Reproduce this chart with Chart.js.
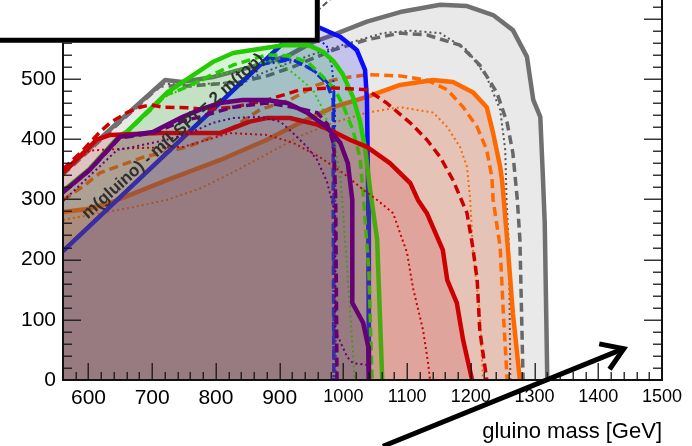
<!DOCTYPE html>
<html>
<head>
<meta charset="utf-8">
<style>
  html, body { margin: 0; padding: 0; background: #fff; overflow: hidden; }
  #wrap { position: relative; width: 692px; height: 446px; }
</style>
<script src="https://cdn.jsdelivr.net/npm/chart.js@4.4.1/dist/chart.umd.min.js"></script>
</head>
<body>
<div id="wrap"><canvas id="c" width="692" height="446"></canvas></div>
<script>
// Axis ranges and tick labels
const xRange = [560, 1500];
const yRange = [0, 631];
const xTickLabels = [600, 700, 800, 900, 1000, 1100, 1200, 1300, 1400, 1500];
const yTickLabels = [0, 100, 200, 300, 400, 500];

// Exclusion contours: [gluino mass, LSP mass] in GeV
const grayObs = [[560,344],[640,422],[720,498],[747,495],[795,503],[838,515],[880,527],[916,540],[950,560],[984,573],[1037,595],[1089,611],[1152,623],[1194,621],[1235,606],[1266,581],[1288,537],[1298,465],[1309,437],[1313,340],[1316,260],[1320,0]];
const grayExp = [[560,341],[640,419],[712,488],[760,488],[838,495],[880,505],[921,520],[984,548],[1037,565],[1089,576],[1131,573],[1183,556],[1214,523],[1241,477],[1257,427],[1266,377],[1273,299],[1277,233],[1282,0]];
const grayBand = [[560,342],[640,420],[715,492],[755,490],[838,495],[898,520],[950,540],[1010,560],[1062,576],[1105,580],[1152,576],[1194,548],[1225,503],[1246,449],[1254,382],[1256,299],[1260,216],[1262,0]];
const grayAlt = [[935,590],[1000,652]];

const orangeObs = [[560,279],[598,284],[634,294],[686,316],[723,332],[806,365],[880,399],[932,427],[984,453],[1037,470],[1089,490],[1141,498],[1172,495],[1203,478],[1225,453],[1235,410],[1246,354],[1249,332],[1257,233],[1266,111],[1277,0]];
const orangeExp = [[560,299],[591,321],[618,344],[686,370],[755,387],[795,404],[827,419],[869,449],[916,465],[959,490],[984,498],[1010,503],[1037,507],[1089,505],[1131,498],[1163,482],[1188,453],[1210,420],[1225,382],[1233,337],[1235,299],[1246,221],[1251,111],[1257,0]];
const orangeBand = [[560,266],[618,277],[670,287],[723,299],[775,318],[827,345],[880,375],[932,405],[984,427],[1037,444],[1089,453],[1141,444],[1163,420],[1183,387],[1194,354],[1199,299],[1203,221],[1214,111],[1219,0]];

const blueObs = [[560,214],[932,586],[963,585],[995,570],[1021,548],[1034,515],[1037,465],[1039,300],[1040,0]];
const blueExp = [[560,214],[880,534],[921,532],[952,515],[974,493],[984,465],[984,299],[985,0]];
const blueBand = [[560,214],[925,579],[955,570],[974,555],[982,520],[985,487],[987,432],[988,0]];
const blueAlt = [[560,214],[870,524],[921,532],[952,515],[974,495],[985,480],[985,0]];

const greenObs = [[560,314],[602,351],[649,406],[660,412],[723,477],[795,528],[827,543],[905,556],[945,556],[968,545],[984,530],[999,508],[1015,470],[1026,430],[1034,385],[1042,316],[1053,233],[1061,0]];
const greenExp = [[560,313],[602,350],[649,405],[660,411],[723,474],[744,482],[786,503],[827,523],[880,540],[916,538],[945,527],[968,503],[985,485],[1000,455],[1015,415],[1026,370],[1031,310],[1040,180],[1045,0]];
const greenBand = [[560,313],[602,350],[649,405],[723,472],[786,500],[830,515],[890,532],[921,510],[952,482],[968,449],[985,400],[995,340],[1005,200],[1018,0]];

const redObs = [[560,344],[613,399],[634,407],[712,410],[806,410],[853,429],[880,435],[916,435],[959,424],[979,415],[1010,399],[1037,387],[1073,360],[1105,327],[1117,299],[1131,277],[1156,216],[1163,166],[1178,128],[1188,66],[1202,0]];
const redExp = [[560,350],[590,380],[618,412],[634,427],[660,444],[681,453],[697,457],[717,453],[755,452],[786,449],[827,453],[880,465],[905,473],[932,482],[984,485],[1037,482],[1068,460],[1105,427],[1131,399],[1152,370],[1172,332],[1194,277],[1203,221],[1210,166],[1214,83],[1225,0]];
const redBand = [[560,350],[602,381],[670,385],[748,387],[822,410],[880,407],[921,394],[963,370],[999,344],[1031,316],[1053,299],[1078,277],[1100,211],[1109,154],[1125,83],[1133,28],[1136,0]];

const purpleObs = [[560,312],[602,349],[649,404],[701,412],[748,437],[775,449],[806,460],[842,465],[880,465],[912,460],[943,444],[974,420],[995,394],[1007,360],[1014,299],[1014,128],[1031,95],[1039,55],[1040,0]];
const purpleExp = [[560,311],[602,348],[649,402],[701,410],[748,430],[775,437],[827,453],[880,460],[921,453],[959,444],[975,425],[985,390],[988,300],[990,0]];
const purpleBand = [[560,297],[607,344],[645,382],[670,387],[723,399],[759,410],[795,427],[827,435],[869,437],[901,429],[921,410],[943,387],[959,365],[974,330],[984,290],[987,277],[987,83],[1006,38],[1015,28],[1037,25],[1040,0]];

// Kinematic boundary m(gluino) - m(LSP) = 2 m(top)
const diagLine = [[560,214],[932,586]];
const diagText = 'm(gluino) - m(LSP) = 2 m(top)';
const diagTextStart = 605;

// Annotation arrow (tail, head) and the framed box corner
const arrowLine = [[1062,-110],[1440,52]];
const boxCorner = [963, 560];

const pts = a => a.map(p => ({x: p[0], y: p[1]}));

const SOLID = {w: 4.5, dash: []};
const DASH = {w: 3.5, dash: [9, 5]};
const DOT = {w: 2, dash: [2, 3]};
const DASHDOT = {w: 3, dash: [9, 3, 2, 3]};

const datasets = [];
function addFill(contour, color) {
  datasets.push({
    data: pts(contour.concat([[xRange[0], 0]])),
    showLine: true, fill: 'shape', backgroundColor: color,
    borderColor: 'rgba(0,0,0,0)', borderWidth: 0, pointRadius: 0, clip: 0
  });
}
function addLine(contour, color, style) {
  datasets.push({
    data: pts(contour), showLine: true, fill: false,
    borderColor: color, borderWidth: style.w, borderDash: style.dash,
    borderCapStyle: 'butt', borderJoinStyle: 'round',
    pointRadius: 0, clip: 0
  });
}

addFill(grayObs, 'rgb(233,233,233)');
addLine(grayBand, '#555555', DOT);
addLine(grayExp, '#686868', DASH);
addLine(grayObs, '#707070', SOLID);
addLine(grayAlt, '#555555', {w: 2, dash: [6, 3, 2, 3]});

addFill(orangeObs, 'rgba(219,57,0,0.21)');
addLine(orangeBand, '#ff6a00', DOT);
addLine(orangeExp, '#ff6a00', DASH);
addLine(orangeObs, '#ff6a00', SOLID);

addFill(blueObs, 'rgba(0,0,250,0.16)');
addLine(blueBand, '#1010ff', DOT);
addLine(blueAlt, '#1010ff', DASHDOT);
addLine(blueExp, '#1010ff', DASH);
addLine(blueObs, '#0a0aff', SOLID);

addFill(greenObs, 'rgba(0,188,0,0.155)');
addLine(greenBand, '#22cc00', DOT);
addLine(greenExp, '#22cc00', DASH);
addLine(greenObs, '#22cc00', SOLID);

addFill(redObs, 'rgba(204,61,71,0.23)');
addLine(redBand, '#cc0000', DOT);
addLine(redExp, '#cc0000', DASH);
addLine(redObs, '#cc0000', SOLID);

addFill(purpleObs, 'rgba(80,54,86,0.2)');
addLine(purpleBand, '#660077', DOT);
addLine(purpleExp, '#660077', DASH);
addLine(purpleObs, '#660077', SOLID);

// draw in the sequence they were added
datasets.forEach((d, i) => { d.order = -i; });

const FONT = "'Liberation Sans', Arial, Helvetica, sans-serif";

const framePlugin = {
  id: 'frame',
  afterDatasetsDraw(chart) {
    const {ctx, chartArea: a, scales: {x, y}} = chart;
    ctx.save();
    ctx.strokeStyle = 'rgba(20,20,20,0.85)';
    ctx.lineWidth = 1.5;
    ctx.beginPath();
    for (let v = xRange[0] + 20; v <= xRange[1]; v += 20) {
      const px = Math.round(x.getPixelForValue(v)) + 0.25;
      const L = v % 100 === 0 ? 17 : 8;
      ctx.moveTo(px, a.bottom); ctx.lineTo(px, a.bottom - L);
    }
    for (let v = 0; v <= 620; v += 20) {
      const py = Math.round(y.getPixelForValue(v)) + 0.25;
      const L = v % 100 === 0 ? 18 : 9;
      ctx.moveTo(a.left, py); ctx.lineTo(a.left + L, py);
      ctx.moveTo(a.right, py); ctx.lineTo(a.right - L, py);
    }
    ctx.stroke();
    ctx.strokeStyle = '#111';
    ctx.lineWidth = 2;
    ctx.beginPath();
    ctx.moveTo(a.left, a.top); ctx.lineTo(a.left, a.bottom);
    ctx.lineTo(a.right, a.bottom); ctx.lineTo(a.right, a.top);
    ctx.stroke();

    // label along the kinematic boundary
    const p1 = [x.getPixelForValue(diagLine[0][0]), y.getPixelForValue(diagLine[0][1])];
    const p2 = [x.getPixelForValue(diagLine[1][0]), y.getPixelForValue(diagLine[1][1])];
    const ang = Math.atan2(p2[1] - p1[1], p2[0] - p1[0]);
    const sx = x.getPixelForValue(diagTextStart);
    const sy = y.getPixelForValue(diagTextStart - (diagLine[0][0] - diagLine[0][1]));
    ctx.save();
    ctx.translate(sx, sy);
    ctx.rotate(ang + 0.025);
    ctx.font = 'bold 17px ' + FONT;
    ctx.fillStyle = '#2e2e2e';
    ctx.textAlign = 'left';
    ctx.textBaseline = 'alphabetic';
    ctx.fillText(diagText, 0, -6);
    ctx.restore();
    ctx.restore();
  },
  afterDraw(chart) {
    const {ctx, scales: {x, y}} = chart;
    ctx.save();
    // framed box in the upper left
    const bx = x.getPixelForValue(boxCorner[0]);
    const by = y.getPixelForValue(boxCorner[1]);
    ctx.fillStyle = '#fff';
    ctx.fillRect(-10, -10, bx + 10, by + 10);
    ctx.strokeStyle = '#000';
    ctx.lineWidth = 5;
    ctx.strokeRect(-10, -10, bx + 10 - 2.5, by + 10 - 2.5);

    // arrow
    const t = [x.getPixelForValue(arrowLine[0][0]), y.getPixelForValue(arrowLine[0][1])];
    const h = [x.getPixelForValue(arrowLine[1][0]), y.getPixelForValue(arrowLine[1][1])];
    const ang = Math.atan2(h[1] - t[1], h[0] - t[0]);
    const len = 25, spread = 0.58;
    ctx.strokeStyle = '#000';
    ctx.lineWidth = 5;
    ctx.lineCap = 'butt';
    ctx.lineJoin = 'miter';
    ctx.beginPath();
    ctx.moveTo(t[0], t[1]);
    ctx.lineTo(h[0] - 2 * Math.cos(ang), h[1] - 2 * Math.sin(ang));
    ctx.stroke();
    ctx.beginPath();
    ctx.moveTo(h[0] - len * Math.cos(ang - spread), h[1] - len * Math.sin(ang - spread));
    ctx.lineTo(h[0], h[1]);
    ctx.lineTo(h[0] - len * Math.cos(ang + spread), h[1] - len * Math.sin(ang + spread));
    ctx.stroke();
    ctx.restore();
  }
};

const noPad = s => { s.paddingTop = 0; s.paddingBottom = 0; s.paddingLeft = 0; s.paddingRight = 0; };

new Chart(document.getElementById('c'), {
  type: 'scatter',
  data: {datasets},
  plugins: [framePlugin],
  options: {
    responsive: false,
    animation: false,
    devicePixelRatio: 1,
    events: [],
    layout: {autoPadding: false, padding: {left: 0, right: 30, top: 0, bottom: 0}},
    plugins: {legend: {display: false}, tooltip: {enabled: false}},
    elements: {line: {tension: 0}},
    scales: {
      x: {
        type: 'linear', min: xRange[0], max: xRange[1],
        afterBuildTicks: s => { s.ticks = xTickLabels.map(v => ({value: v})); },
        afterFit: s => { s.height = 66; noPad(s); },
        grid: {display: false, drawTicks: false},
        border: {display: false},
        ticks: {
          autoSkip: false, maxRotation: 0, padding: 6, color: '#000',
          callback: v => String(v),
          font: c => ({family: FONT, size: (c.tick && c.tick.value >= 1000) ? 18 : 21})
        },
        title: {
          display: true, text: 'gluino mass [GeV]', align: 'end', color: '#000',
          font: {family: FONT, size: 22}, padding: {top: 0, bottom: 1}
        }
      },
      y: {
        type: 'linear', min: yRange[0], max: yRange[1],
        afterBuildTicks: s => { s.ticks = yTickLabels.map(v => ({value: v})); },
        afterFit: s => { s.width = 63; noPad(s); },
        grid: {display: false, drawTicks: false},
        border: {display: false},
        ticks: {padding: 7, color: '#000', callback: v => String(v), font: {family: FONT, size: 21}}
      }
    }
  }
});
</script>
</body>
</html>
